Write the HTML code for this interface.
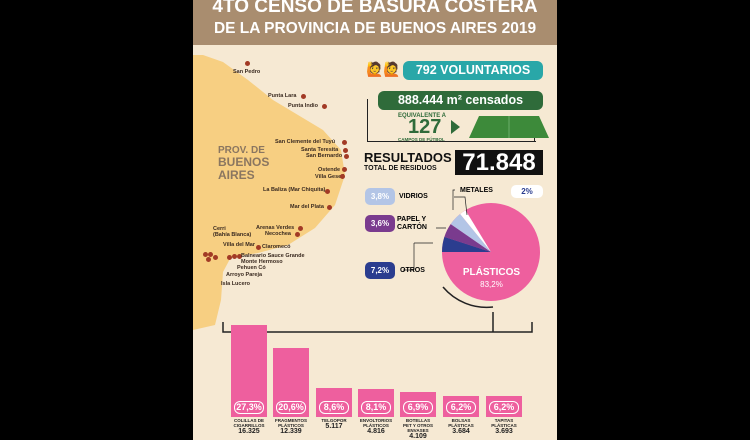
<!DOCTYPE html>
<html><head><meta charset="utf-8"><style>
body{margin:0;width:750px;height:440px;background:#000;overflow:hidden;font-family:"Liberation Sans",sans-serif;font-weight:bold}
.p{position:absolute;left:193px;top:0;width:364px;height:440px;background:#f6e9d3;overflow:hidden}
.t{position:absolute;white-space:nowrap}
.sm{font-size:5.5px;color:#3a2a20}
.dot{position:absolute;width:5px;height:5px;border-radius:50%;background:#a23a25}
.bar{position:absolute;background:#ee5f9e;width:36px;bottom:23px}
.pct{position:absolute;bottom:3px;left:3px;right:3px;height:11px;border:1px solid #fff;border-radius:6px;color:#fff;font-size:9px;text-align:center;line-height:11px}
.bl{position:absolute;top:418px;width:44px;text-align:center;font-size:4.5px;color:#222;line-height:5px}
.bl b{font-size:7px;display:block;line-height:8px}
</style></head><body>
<div class="p">
<div class="t" style="left:0;top:0;width:364px;height:45px;background:#a98d6f"></div>
<div class="t" style="left:0;top:-4px;width:364px;text-align:center;color:#fff;font-size:19px">4TO CENSO DE BASURA COSTERA</div>
<div class="t" style="left:0;top:20px;width:364px;text-align:center;color:#fff;font-size:15.5px">DE LA PROVINCIA DE BUENOS AIRES 2019</div>
<svg width="364" height="440" style="position:absolute;left:0;top:0">
<path d="M0,55 L10,55 L30,62 L55,80 L80,100 L105,115 L130,130 L148,150 L152,175 L142,205 L122,228 L95,245 L65,253 L38,257 L30,272 L28,300 L22,325 L0,330 Z" fill="#f7cf82"/>
<path d="M30,322 L30,332 L339,332 L339,322 M300,332 L300,312" fill="none" stroke="#222" stroke-width="1.5"/>
<path d="M250,287 A57,57 0 0 0 300,307" fill="none" stroke="#222" stroke-width="1.5"/>
<g transform="translate(298,252)">
<circle r="49" fill="#ee5f9e"/>
<path d="M0,0 L-49,0 A49,49 0 0 1 -46.6,-15.1 Z" fill="#2b3d8f"/>
<path d="M0,0 L-46.6,-15.1 A49,49 0 0 1 -40.3,-27.9 Z" fill="#7a3b8e"/>
<path d="M0,0 L-40.3,-27.9 A49,49 0 0 1 -30.9,-38 Z" fill="#b3c5e6"/>
<path d="M0,0 L-30.9,-38 A49,49 0 0 1 -25.5,-41.8 Z" fill="#fff"/>
</g>
<path d="M71,197 L82,197 L84,215 M72,190 L70,190 L70,210 M53,228 L63,228 M31,243 L31,270 M31,243 L50,243 M20,270 L31,270" fill="none" stroke="#222" stroke-width="0.7" transform="translate(190,0)"/>
</svg>
<div class="t" style="left:25px;top:145px;font-size:10px;color:#8a7660;line-height:11px">PROV. DE<br><span style="font-size:12px;line-height:13px">BUENOS<br>AIRES</span></div>
<div class="t sm" style="left:40px;top:69px">San Pedro</div><div class="dot" style="left:52px;top:61px"></div>
<div class="t sm" style="left:75px;top:93px">Punta Lara</div><div class="dot" style="left:108px;top:94px"></div>
<div class="t sm" style="left:95px;top:103px">Punta Indio</div><div class="dot" style="left:129px;top:104px"></div>
<div class="t sm" style="left:82px;top:139px">San Clemente del Tuyú</div><div class="dot" style="left:149px;top:140px"></div>
<div class="t sm" style="left:108px;top:147px">Santa Teresita</div><div class="dot" style="left:150px;top:148px"></div>
<div class="t sm" style="left:113px;top:153px">San Bernardo</div><div class="dot" style="left:151px;top:154px"></div>
<div class="t sm" style="left:125px;top:167px">Ostende</div><div class="dot" style="left:149px;top:167px"></div>
<div class="t sm" style="left:122px;top:174px">Villa Gesell</div><div class="dot" style="left:147px;top:174px"></div>
<div class="t sm" style="left:70px;top:187px">La Baliza (Mar Chiquita)</div><div class="dot" style="left:132px;top:189px"></div>
<div class="t sm" style="left:97px;top:204px">Mar del Plata</div><div class="dot" style="left:134px;top:205px"></div>
<div class="t sm" style="left:63px;top:225px">Arenas Verdes</div><div class="dot" style="left:105px;top:226px"></div>
<div class="t sm" style="left:72px;top:231px">Necochea</div><div class="dot" style="left:102px;top:232px"></div>
<div class="t sm" style="left:20px;top:226px">Cerri<br>(Bahía Blanca)</div>
<div class="t sm" style="left:30px;top:242px">Villa del Mar</div>
<div class="dot" style="left:63px;top:245px"></div><div class="t sm" style="left:69px;top:244px">Claromecó</div>
<div class="dot" style="left:10px;top:252px"></div><div class="dot" style="left:15px;top:252px"></div><div class="dot" style="left:13px;top:257px"></div><div class="dot" style="left:20px;top:255px"></div>
<div class="dot" style="left:34px;top:255px"></div><div class="dot" style="left:39px;top:254px"></div><div class="dot" style="left:44px;top:254px"></div>
<div class="t sm" style="left:48px;top:253px">Balneario Sauce Grande</div>
<div class="t sm" style="left:48px;top:259px">Monte Hermoso</div>
<div class="t sm" style="left:44px;top:265px">Pehuen Có</div>
<div class="t sm" style="left:33px;top:272px">Arroyo Pareja</div>
<div class="t sm" style="left:28px;top:281px">Isla Lucero</div>
<div class="t" style="left:173px;top:61px;font-size:14px">🙋🙋</div>
<div class="t" style="left:210px;top:61px;width:140px;height:19px;background:#29a7a8;border-radius:6px;color:#fff;font-size:12.5px;text-align:center;line-height:19px">792 VOLUNTARIOS</div>
<div class="t" style="left:174px;top:99px;width:168px;height:42px;border:1px solid #222;border-top:none;border-right:none"></div>
<div class="t" style="left:341px;top:120px;width:1px;height:21px;background:#222"></div>
<div class="t" style="left:185px;top:91px;width:165px;height:19px;background:#2f6b3a;border-radius:6px;color:#fff;font-size:12.5px;text-align:center;line-height:19px">888.444 m² censados</div>
<div class="t" style="left:205px;top:113px;font-size:6px;color:#2f6b3a">EQUIVALENTE A</div>
<div class="t" style="left:215px;top:117px;font-size:20px;color:#2f6b3a;line-height:20px">127</div>
<div class="t" style="left:205px;top:137px;font-size:4.5px;color:#2f6b3a">CAMPOS DE FÚTBOL</div>
<div class="t" style="left:258px;top:120px;width:0;height:0;border-left:9px solid #2f6b3a;border-top:7px solid transparent;border-bottom:7px solid transparent"></div>
<svg width="80" height="22" style="position:absolute;left:276px;top:116px"><polygon points="10,0 70,0 80,22 0,22" fill="#3d8a3a"/><path d="M40,0 L40,22" stroke="#8bc58a" stroke-width=".6"/></svg>
<div class="t" style="left:171px;top:150px;font-size:13px;color:#111">RESULTADOS</div>
<div class="t" style="left:171px;top:165px;font-size:7px;color:#111">TOTAL DE RESIDUOS</div>
<div class="t" style="left:262px;top:150px;width:88px;height:25px;background:#111;color:#fff;font-size:24px;line-height:25px;text-align:center">71.848</div>
<div class="t" style="left:172px;top:188px;width:30px;height:17px;background:#b3c5e6;border-radius:5px;color:#fff;font-size:8px;text-align:center;line-height:17px">3,8%</div>
<div class="t" style="left:206px;top:193px;font-size:7px">VIDRIOS</div>
<div class="t" style="left:172px;top:215px;width:30px;height:17px;background:#7a3b8e;border-radius:5px;color:#fff;font-size:8px;text-align:center;line-height:17px">3,6%</div>
<div class="t" style="left:204px;top:216px;font-size:7px;line-height:8px">PAPEL Y<br>CARTÓN</div>
<div class="t" style="left:172px;top:262px;width:30px;height:17px;background:#2b3d8f;border-radius:5px;color:#fff;font-size:8px;text-align:center;line-height:17px">7,2%</div>
<div class="t" style="left:207px;top:267px;font-size:7px">OTROS</div>
<div class="t" style="left:267px;top:187px;font-size:7px">METALES</div>
<div class="t" style="left:318px;top:185px;width:32px;height:13px;background:#fff;border-radius:5px;color:#2b3d8f;font-size:8px;text-align:center;line-height:13px">2%</div>
<div class="t" style="left:261px;top:267px;width:75px;text-align:center;color:#fff;font-size:10px">PLÁSTICOS</div>
<div class="t" style="left:261px;top:280px;width:75px;text-align:center;color:#fff;font-size:8px;font-weight:normal">83,2%</div>
<div class="bar" style="left:38px;height:92px"><div class="pct">27,3%</div></div>
<div class="bar" style="left:80px;height:69px"><div class="pct">20,6%</div></div>
<div class="bar" style="left:123px;height:29px"><div class="pct">8,6%</div></div>
<div class="bar" style="left:165px;height:28px"><div class="pct">8,1%</div></div>
<div class="bar" style="left:207px;height:25px"><div class="pct">6,9%</div></div>
<div class="bar" style="left:250px;height:21px"><div class="pct">6,2%</div></div>
<div class="bar" style="left:293px;height:21px"><div class="pct">6,2%</div></div>
<div class="bl" style="left:34px">COLILLAS DE<br>CIGARRILLOS<b>16.325</b></div>
<div class="bl" style="left:76px">FRAGMENTOS<br>PLÁSTICOS<b>12.339</b></div>
<div class="bl" style="left:119px">TELGOPOR<br><b>5.117</b></div>
<div class="bl" style="left:161px">ENVOLTORIOS<br>PLÁSTICOS<b>4.816</b></div>
<div class="bl" style="left:203px">BOTELLAS<br>PET Y OTROS<br>ENVASES<b>4.109</b></div>
<div class="bl" style="left:246px">BOLSAS<br>PLÁSTICAS<b>3.684</b></div>
<div class="bl" style="left:289px">TAPITAS<br>PLÁSTICAS<b>3.693</b></div>
</div>
</body></html>
